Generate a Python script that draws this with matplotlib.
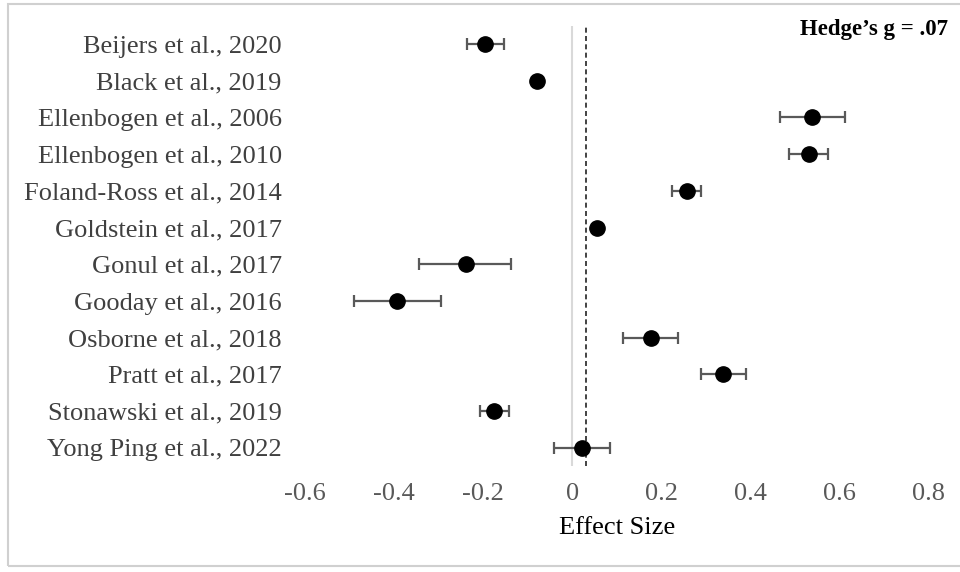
import matplotlib
matplotlib.use('Agg')
import numpy as np
from matplotlib import pyplot as plt
from matplotlib.patches import Rectangle

# === Données ===
studies = [
    "Beijers et al., 2020",
    "Black et al., 2019",
    "Ellenbogen et al., 2006",
    "Ellenbogen et al., 2010",
    "Foland-Ross et al., 2014",
    "Goldstein et al., 2017",
    "Gonul et al., 2017",
    "Gooday et al., 2016",
    "Osborne et al., 2018",
    "Pratt et al., 2017",
    "Stonawski et al., 2019",
    "Yong Ping et al., 2022",
]
effect = [-0.197, -0.079, 0.539, 0.533, 0.258, 0.055, -0.239, -0.393, 0.177, 0.339, -0.176, 0.022]
ci_low = [-0.237, -0.079, 0.466, 0.488, 0.224, 0.055, -0.344, -0.490, 0.115, 0.290, -0.208, -0.042]
ci_high = [-0.154, -0.079, 0.612, 0.575, 0.289, 0.055, -0.137, -0.294, 0.238, 0.391, -0.143, 0.085]
pooled_line = 0.03
x_ticks = [-0.6, -0.4, -0.2, 0, 0.2, 0.4, 0.6, 0.8]
x_tick_labels = ["-0.6", "-0.4", "-0.2", "0", "0.2", "0.4", "0.6", "0.8"]

plt.rcParams['font.family'] = ['Liberation Serif', 'DejaVu Serif']

fig = plt.figure(figsize=(9.6, 5.72), dpi=100)
ax = fig.add_axes([0.318, 0.185, 0.649, 0.77])

# cadre gris autour du graphique (style Excel)
fig.patches.append(Rectangle((8 / 960, 6 / 572), 1.0, 1 - 10 / 572,
                             transform=fig.transFigure, fill=False,
                             edgecolor='#d0d0d0', linewidth=1.5))

y = np.arange(len(studies))
eff = np.array(effect)
err = np.vstack([eff - np.array(ci_low), np.array(ci_high) - eff])

ax.axvline(0, color='#d9d9d9', linewidth=1.5, zorder=1)
ax.axvline(pooled_line, color='#222222', linestyle=(0, (3, 2)), linewidth=1.2, zorder=1)

ax.errorbar(eff, y, xerr=err, fmt='none', ecolor='#595959', elinewidth=1.6,
            capsize=4, capthick=1.6, zorder=2)
ax.plot(eff, y, 'o', color='black', markersize=11, zorder=3)

ax.set_xlim(-0.6, 0.8)
ax.set_ylim(len(studies) - 0.5, -0.5)
ax.set_yticks(y)
ax.set_yticklabels(studies, fontsize=19, color='#404040')
ax.set_xticks(x_ticks)
ax.set_xticklabels(x_tick_labels, fontsize=19, color='#595959')
ax.tick_params(axis='x', length=0, pad=12)
ax.tick_params(axis='y', length=0, pad=17)
for s in ax.spines.values():
    s.set_visible(False)

ax.set_xlabel("Effect Size", fontsize=19, labelpad=9)

fig.text(948 / 960, 1 - 30 / 572, "Hedge\u2019s g = .07", fontsize=16.5,
         fontweight='bold', ha='right', va='center')

fig.savefig('out.png', dpi=100, facecolor='white')
